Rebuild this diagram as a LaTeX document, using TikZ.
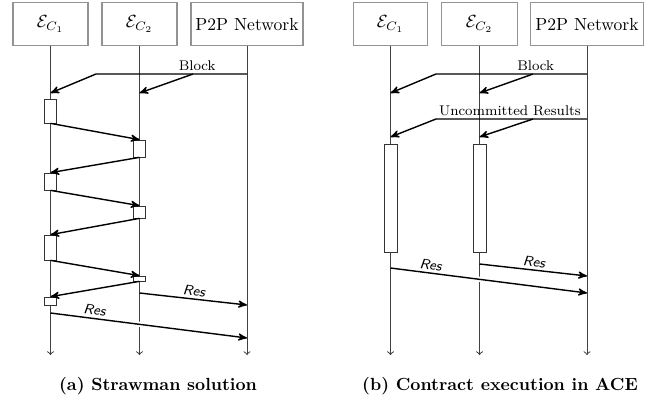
\documentclass[tikz,border=0pt]{standalone}
\usepackage{amsmath,amssymb}
\usepackage{tikz}
\usetikzlibrary{arrows}
\usetikzlibrary{shapes}
\usetikzlibrary{calc}

\tikzset{
  hdr/.style={draw=gray!85, line width=0.8pt, minimum height=0.86cm, inner sep=2pt},
  life/.style={draw=black!75, line width=0.55pt, ->, >=to},
  act/.style={draw=black!80, fill=white, minimum width=0.24cm, inner sep=0pt},
  msg/.style={->, >=stealth', line width=0.8pt},
  halo/.style={preaction={draw=white, -, line width=3pt, shorten <=4pt, shorten >=4pt}},
  lbl/.style={font=\footnotesize, inner sep=1.5pt},
  reslbl/.style={font=\footnotesize\sffamily\itshape, inner sep=1.5pt}
}

\begin{document}
\begin{tikzpicture}[x=0.02cm,y=-0.02cm]%strawman vs. ACE
\useasboundingbox (0,0) rectangle (649,400);
% (a) strawman solution
\node[hdr, minimum width=1.5cm] (sa) at (50.5,24) {$\mathcal{E}_{C_1}$};
\node[hdr, minimum width=1.5cm] (sb) at (139.5,24) {$\mathcal{E}_{C_2}$};
\node[hdr, minimum width=2.24cm] (sn) at (247,24) {P2P Network};
\foreach \n/\x in {sa/50.5,sb/139.5,sn/247} {
  \coordinate (\n-end) at (\x,355);
  \draw[life] (\n.south) -- (\n-end);
}
\foreach \n/\x/\y/\h in {a1/50.5/111/0.48, b1/139.5/148.5/0.34, a2/50.5/181.5/0.34,
  b2/139.5/212/0.24, a3/50.5/247.5/0.5, b3/139.5/278.5/0.1, a4/50.5/301/0.16}
  \node[act, minimum height=\h cm] (\n) at (\x,\y) {};
\foreach \s/\t in {a1/b1,b1/a2,a2/b2,b2/a3,a3/b3,b3/a4}
  \draw[msg] (\s.south) -- (\t.north);
\coordinate (sblk) at (247,74);
\coordinate (sbend) at (96,74);
\coordinate (sfork) at (193,74);
\coordinate (sa-in) at (50.5,93);
\coordinate (sb-in) at (139.5,93);
\draw[msg] (sblk) -- node[lbl, above, pos=0.33] {Block} (sbend) -- (sa-in);
\draw[msg] (sfork) -- (sb-in);
\coordinate (sres1) at (139.5,293);
\coordinate (sres1-end) at (247,305);
\coordinate (sres2) at (50.5,313);
\coordinate (sres2-end) at (247,338);
\draw[msg, halo] (sres1) -- node[reslbl, above, sloped] {Res} (sres1-end);
\draw[msg, halo] (sres2) -- node[reslbl, above, sloped, pos=0.22] {Res} (sres2-end);
\node[font=\bfseries] (capa) at (158,386) {(a) Strawman solution};
% (b) contract execution in ACE
\node[hdr, minimum width=1.48cm] (ea) at (390.5,24) {$\mathcal{E}_{C_1}$};
\node[hdr, minimum width=1.52cm] (eb) at (479.5,24) {$\mathcal{E}_{C_2}$};
\node[hdr, minimum width=2.26cm] (en) at (587,24) {P2P Network};
\foreach \n/\x in {ea/390.5,eb/479.5,en/587} {
  \coordinate (\n-end) at (\x,355);
  \draw[life] (\n.south) -- (\n-end);
}
\node[act, minimum width=0.26cm, minimum height=2.16cm] (ra) at (390.5,198) {};
\node[act, minimum width=0.26cm, minimum height=2.16cm] (rb) at (479.5,198) {};
\coordinate (eblk) at (587,74);
\coordinate (ebend) at (436,74);
\coordinate (efork) at (533,74);
\coordinate (ea-in) at (390.5,93);
\coordinate (eb-in) at (479.5,93);
\draw[msg] (eblk) -- node[lbl, above, pos=0.34] {Block} (ebend) -- (ea-in);
\draw[msg] (efork) -- (eb-in);
\coordinate (eunc) at (587,119);
\coordinate (euend) at (436,119);
\coordinate (eufork) at (533,119);
\coordinate (ea-res) at (390.5,137);
\coordinate (eb-res) at (479.5,137);
\draw[msg] (eunc) -- node[lbl, above, pos=0.51] {Uncommitted Results} (euend) -- (ea-res);
\draw[msg] (eufork) -- (eb-res);
\coordinate (eres1) at (479.5,264);
\coordinate (eres1-end) at (587,276);
\coordinate (eres2) at (390.5,268);
\coordinate (eres2-end) at (587,293);
\draw[msg, halo] (eres1) -- node[reslbl, above, sloped] {Res} (eres1-end);
\draw[msg, halo] (eres2) -- node[reslbl, above, sloped, pos=0.2] {Res} (eres2-end);
\node[font=\bfseries] (capb) at (500,386) {(b) Contract execution in ACE};
\end{tikzpicture}
\end{document}
